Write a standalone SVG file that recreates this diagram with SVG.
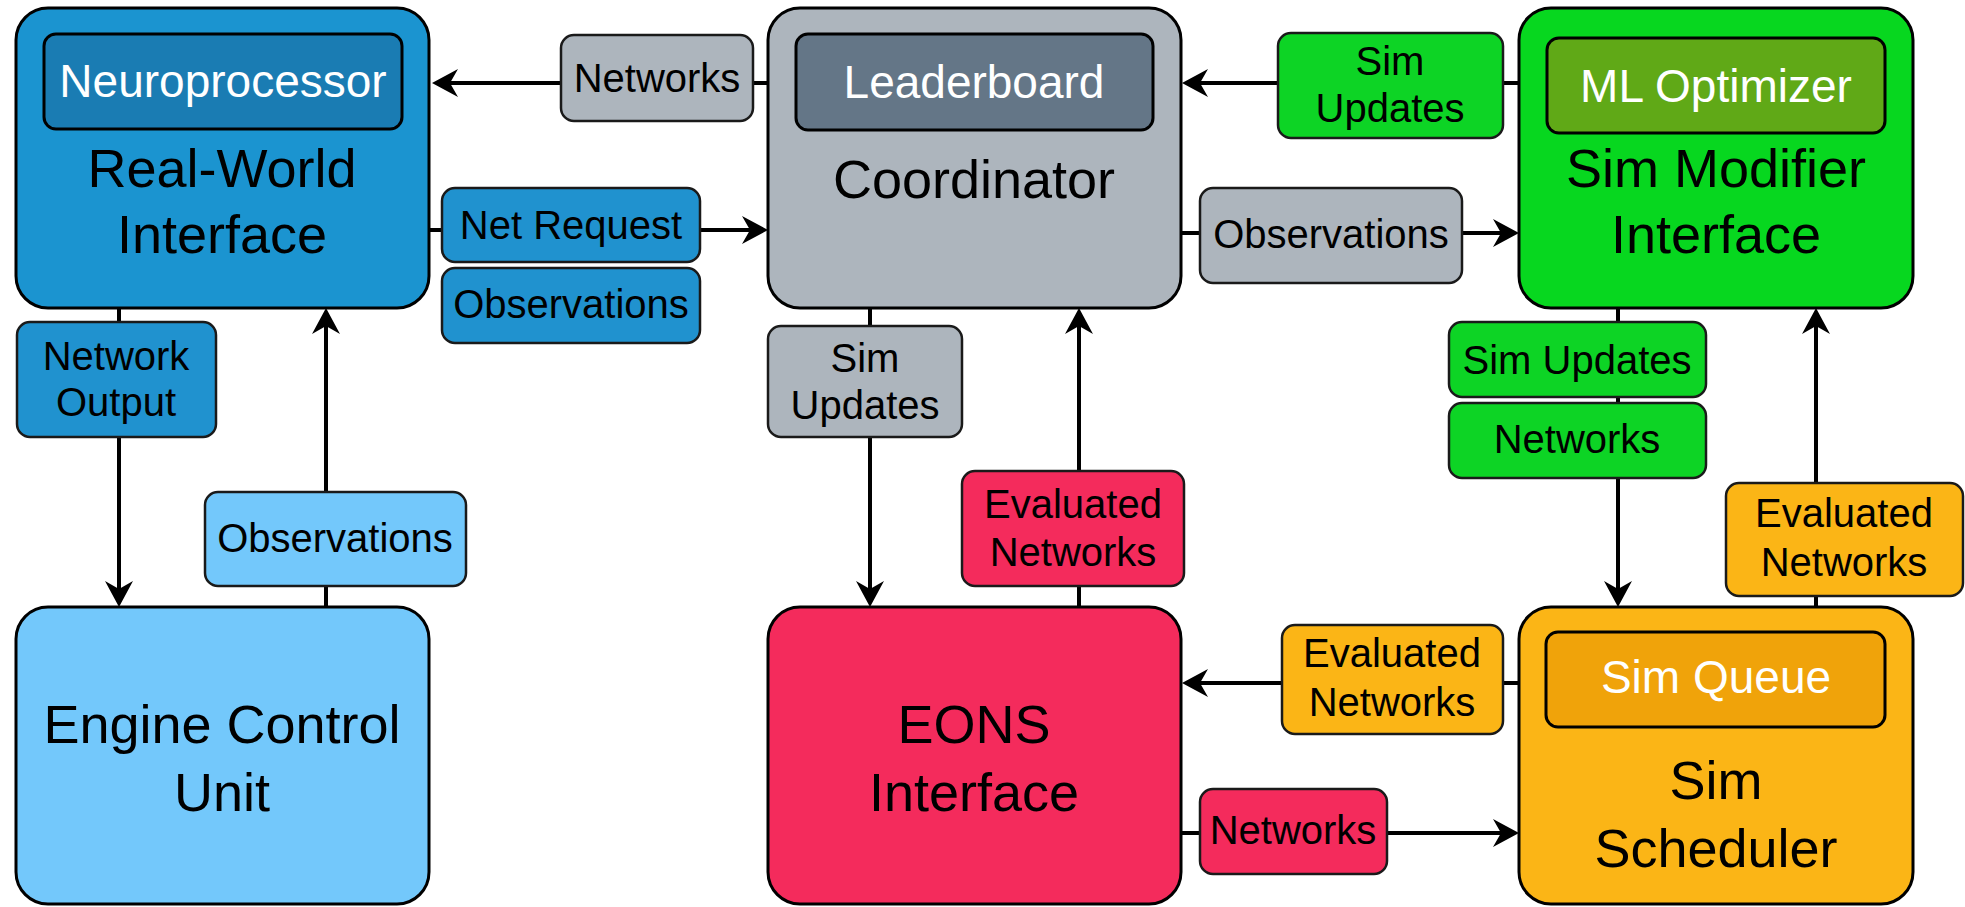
<svg xmlns="http://www.w3.org/2000/svg" width="1965" height="907" viewBox="0 0 1965 907">
  <defs>
    <marker id="arrow" markerUnits="userSpaceOnUse" markerWidth="40" markerHeight="40" viewBox="-10 -20 40 40" refX="0" refY="0" orient="auto">
      <path d="M18,0 L-8,-14 L0,0 L-8,14 Z" fill="#000"/>
    </marker>
    <style>
      .node { stroke: #000; stroke-width: 3; }
      .inner { stroke: #000; stroke-width: 3; }
      .lbl { stroke: #1a1a1a; stroke-width: 2.5; }
      .title { font-family: "Liberation Sans", Arial, sans-serif; font-size: 54px; fill: #000; text-anchor: middle; }
      .sub { font-family: "Liberation Sans", Arial, sans-serif; font-size: 46px; fill: #fff; text-anchor: middle; }
      .tx { font-family: "Liberation Sans", Arial, sans-serif; font-size: 40px; fill: #000; text-anchor: middle; }
      .wire { stroke: #000; stroke-width: 4; fill: none; }
    </style>
  </defs>
  <rect width="1965" height="907" fill="#fff"/>

  <!-- connectors -->
  <g id="connectors">
    <line class="wire" x1="768" y1="83" x2="450" y2="83" marker-end="url(#arrow)"/>
    <line class="wire" x1="430" y1="230" x2="750" y2="230" marker-end="url(#arrow)"/>
    <line class="wire" x1="1519" y1="83" x2="1200" y2="83" marker-end="url(#arrow)"/>
    <line class="wire" x1="1181" y1="233" x2="1501" y2="233" marker-end="url(#arrow)"/>
    <line class="wire" x1="119" y1="308" x2="119" y2="589" marker-end="url(#arrow)"/>
    <line class="wire" x1="326" y1="607" x2="326" y2="326" marker-end="url(#arrow)"/>
    <line class="wire" x1="870" y1="308" x2="870" y2="589" marker-end="url(#arrow)"/>
    <line class="wire" x1="1079" y1="607" x2="1079" y2="326" marker-end="url(#arrow)"/>
    <line class="wire" x1="1618" y1="308" x2="1618" y2="589" marker-end="url(#arrow)"/>
    <line class="wire" x1="1816" y1="607" x2="1816" y2="326" marker-end="url(#arrow)"/>
    <line class="wire" x1="1519" y1="683" x2="1200" y2="683" marker-end="url(#arrow)"/>
    <line class="wire" x1="1181" y1="833" x2="1501" y2="833" marker-end="url(#arrow)"/>
  </g>

  <!-- main nodes -->
  <g id="real-world-interface">
    <rect class="node" x="16" y="8" width="413" height="300" rx="32" fill="#1b94d0"/>
    <rect class="inner" x="44" y="34" width="358" height="95" rx="12" fill="#1a7cb3"/>
    <text class="sub" x="223" y="97">Neuroprocessor</text>
    <text class="title" x="222" y="187">Real-World</text>
    <text class="title" x="222" y="253">Interface</text>
  </g>

  <g id="coordinator">
    <rect class="node" x="768" y="8" width="413" height="300" rx="32" fill="#adb5bd"/>
    <rect class="inner" x="796" y="34" width="357" height="96" rx="12" fill="#647687"/>
    <text class="sub" x="974" y="98">Leaderboard</text>
    <text class="title" x="974" y="198">Coordinator</text>
  </g>

  <g id="sim-modifier-interface">
    <rect class="node" x="1519" y="8" width="394" height="300" rx="32" fill="#07d71f"/>
    <rect class="inner" x="1547" y="38" width="338" height="95" rx="12" fill="#60a917"/>
    <text class="sub" x="1716" y="102">ML Optimizer</text>
    <text class="title" x="1716" y="187">Sim Modifier</text>
    <text class="title" x="1716" y="253">Interface</text>
  </g>

  <g id="engine-control-unit">
    <rect class="node" x="16" y="607" width="413" height="297" rx="32" fill="#73c8fb"/>
    <text class="title" x="222" y="743">Engine Control</text>
    <text class="title" x="222" y="811">Unit</text>
  </g>

  <g id="eons-interface">
    <rect class="node" x="768" y="607" width="413" height="297" rx="32" fill="#f42b5c"/>
    <text class="title" x="974" y="743">EONS</text>
    <text class="title" x="974" y="811">Interface</text>
  </g>

  <g id="sim-scheduler">
    <rect class="node" x="1519" y="607" width="394" height="297" rx="32" fill="#fbb516"/>
    <rect class="inner" x="1546" y="632" width="339" height="95" rx="12" fill="#f0a30a"/>
    <text class="sub" x="1716" y="693">Sim Queue</text>
    <text class="title" x="1716" y="799">Sim</text>
    <text class="title" x="1716" y="867">Scheduler</text>
  </g>

  <!-- connector labels -->
  <g id="label-networks-top">
    <rect class="lbl" x="561" y="35" width="192" height="86" rx="13" fill="#adb5bd"/>
    <text class="tx" x="657" y="92">Networks</text>
  </g>
  <g id="label-net-request">
    <rect class="lbl" x="442" y="188" width="258" height="74" rx="13" fill="#2092cf"/>
    <text class="tx" x="571" y="239">Net Request</text>
  </g>
  <g id="label-observations-rw">
    <rect class="lbl" x="442" y="268" width="258" height="75" rx="13" fill="#2092cf"/>
    <text class="tx" x="571" y="318">Observations</text>
  </g>
  <g id="label-sim-updates-top">
    <rect class="lbl" x="1278" y="33" width="225" height="105" rx="13" fill="#0dd425"/>
    <text class="tx" x="1390" y="75">Sim</text>
    <text class="tx" x="1390" y="122">Updates</text>
  </g>
  <g id="label-observations-coord">
    <rect class="lbl" x="1200" y="188" width="262" height="95" rx="13" fill="#adb5bd"/>
    <text class="tx" x="1331" y="248">Observations</text>
  </g>
  <g id="label-network-output">
    <rect class="lbl" x="17" y="322" width="199" height="115" rx="13" fill="#2092cf"/>
    <text class="tx" x="116" y="370">Network</text>
    <text class="tx" x="116" y="416">Output</text>
  </g>
  <g id="label-observations-ecu">
    <rect class="lbl" x="205" y="492" width="261" height="94" rx="13" fill="#73c8fb"/>
    <text class="tx" x="335" y="552" fill="#333">Observations</text>
  </g>
  <g id="label-sim-updates-coord">
    <rect class="lbl" x="768" y="326" width="194" height="111" rx="13" fill="#adb5bd"/>
    <text class="tx" x="865" y="372">Sim</text>
    <text class="tx" x="865" y="419">Updates</text>
  </g>
  <g id="label-evaluated-eons">
    <rect class="lbl" x="962" y="471" width="222" height="115" rx="13" fill="#f42b5c"/>
    <text class="tx" x="1073" y="518">Evaluated</text>
    <text class="tx" x="1073" y="566">Networks</text>
  </g>
  <g id="label-sim-updates-smi">
    <rect class="lbl" x="1449" y="322" width="257" height="75" rx="13" fill="#0dd425"/>
    <text class="tx" x="1577" y="374">Sim Updates</text>
  </g>
  <g id="label-networks-smi">
    <rect class="lbl" x="1449" y="403" width="257" height="75" rx="13" fill="#0dd425"/>
    <text class="tx" x="1577" y="453">Networks</text>
  </g>
  <g id="label-evaluated-smi">
    <rect class="lbl" x="1726" y="483" width="237" height="113" rx="13" fill="#fbb516"/>
    <text class="tx" x="1844" y="527">Evaluated</text>
    <text class="tx" x="1844" y="576">Networks</text>
  </g>
  <g id="label-evaluated-sched">
    <rect class="lbl" x="1282" y="625" width="221" height="109" rx="13" fill="#fbb516"/>
    <text class="tx" x="1392" y="667">Evaluated</text>
    <text class="tx" x="1392" y="716">Networks</text>
  </g>
  <g id="label-networks-eons">
    <rect class="lbl" x="1200" y="789" width="187" height="85" rx="13" fill="#f42b5c"/>
    <text class="tx" x="1293" y="844">Networks</text>
  </g>
</svg>
